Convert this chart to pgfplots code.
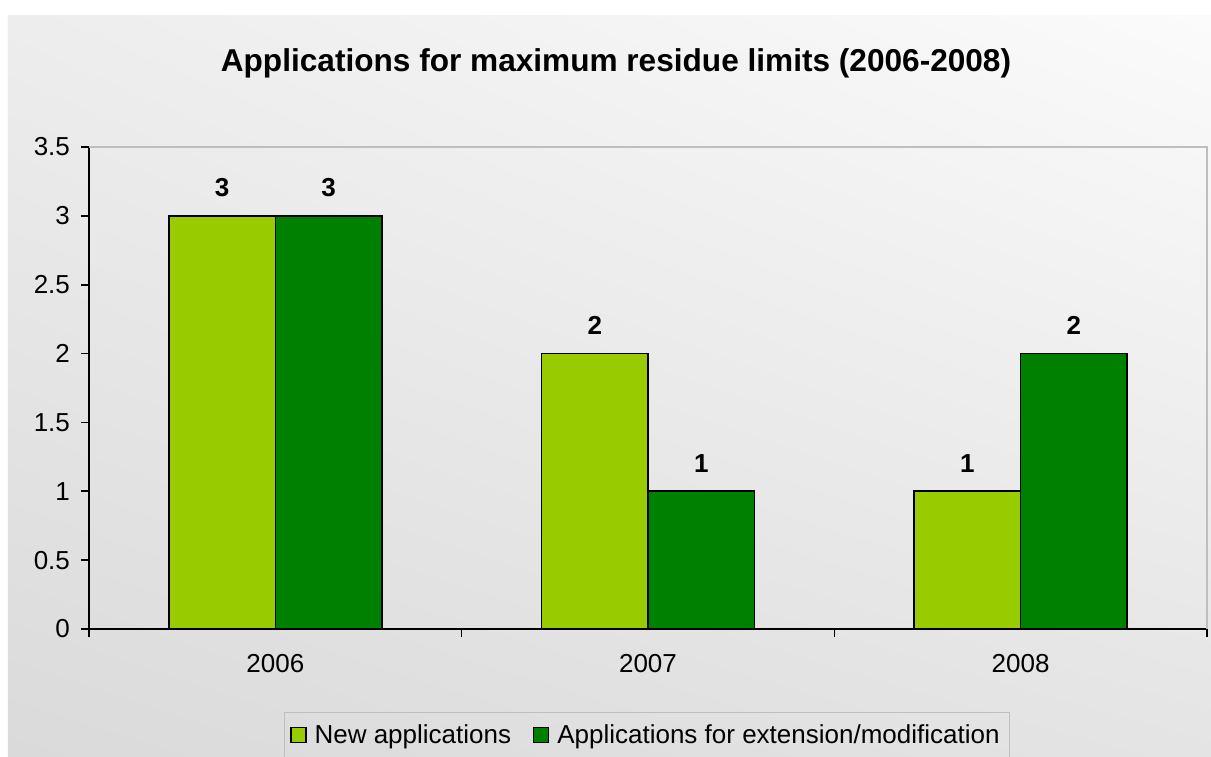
\documentclass[border=0pt]{standalone}
\usepackage{fontspec}
\setmainfont{Liberation Sans}
\usepackage{pgfplots}
\pgfplotsset{compat=1.18}
\usetikzlibrary{shadings}
\definecolor{newapp}{HTML}{99CC00}
\definecolor{extapp}{HTML}{008000}
\definecolor{bgll}{HTML}{DADADA}
\definecolor{bglr}{HTML}{E4E4E4}
\definecolor{bgul}{HTML}{EDEDED}
\definecolor{bgur}{HTML}{FBFBFB}
\definecolor{frame}{HTML}{BEBEBE}
\begin{document}
\begin{tikzpicture}[x=1pt,y=1pt]
\useasboundingbox (-44.5,-63.5) rectangle (561,314.5);
\fill[white] (-44.5,-63.5) rectangle (561,314.5);
\shade[lower left=bgll, lower right=bglr, upper left=bgul, upper right=bgur]
  (-40.5,-63.5) rectangle (561,306.5);
\node[anchor=base, font=\fontsize{15.8}{18}\selectfont\bfseries] at (263.5,278.5)
  {Applications for maximum residue limits (2006-2008)};
\begin{axis}[
    at={(0,0)}, anchor=south west,
    scale only axis, width=559pt, height=241pt,
    xmin=0.5, xmax=3.5, ymin=0, ymax=3.5,
    axis lines*=left, clip=false,
    axis line style={black, line width=0.8pt},
    ybar=0pt, bar width=53.25pt,
    xtick={1,2,3}, xticklabels={2006,2007,2008},
    minor xtick={0.5,1.5,2.5,3.5},
    ytick={0,0.5,1,1.5,2,2.5,3,3.5},
    yticklabels={0,0.5,1,1.5,2,2.5,3,3.5},
    tick align=outside, major tick length=4pt, minor tick length=4pt,
    major x tick style={draw=none},
    minor x tick style={black, line width=0.8pt},
    ytick style={black, line width=0.8pt},
    tick label style={font=\fontsize{13}{15}\selectfont},
    xticklabel style={yshift=-5pt},
    yticklabel style={xshift=-2pt},
    /pgf/number format/assume math mode=true,
    nodes near coords,
    every node near coord/.append style={font=\fontsize{13}{15}\selectfont\bfseries, anchor=base, yshift=9.5pt},
    legend style={at={(axis description cs:0.1744,-0.1718)}, anchor=north west,
      draw=frame, fill=none, font=\fontsize{13}{15}\selectfont, inner ysep=4pt,
      legend columns=2,
      /tikz/every odd column/.append style={column sep=2pt},
      /tikz/every even column/.append style={column sep=9pt}},
]
\addplot[fill=newapp, draw=black, line width=0.8pt,
  legend image code/.code={\draw[fill=newapp, draw=black, line width=0.6pt] (1.5pt,-3.75pt) rectangle (9pt,3.75pt);}]
  coordinates {(1,3) (2,2) (3,1)};
\addplot[fill=extapp, draw=black, line width=0.8pt,
  legend image code/.code={\draw[fill=extapp, draw=black, line width=0.6pt] (1.5pt,-3.75pt) rectangle (9pt,3.75pt);}]
  coordinates {(1,3) (2,1) (3,2)};
\legend{New applications, Applications for extension/modification}
\draw[frame, line width=0.8pt] (rel axis cs:0,1) -- (rel axis cs:1,1) -- (rel axis cs:1,0);
\end{axis}
\end{tikzpicture}
\end{document}
